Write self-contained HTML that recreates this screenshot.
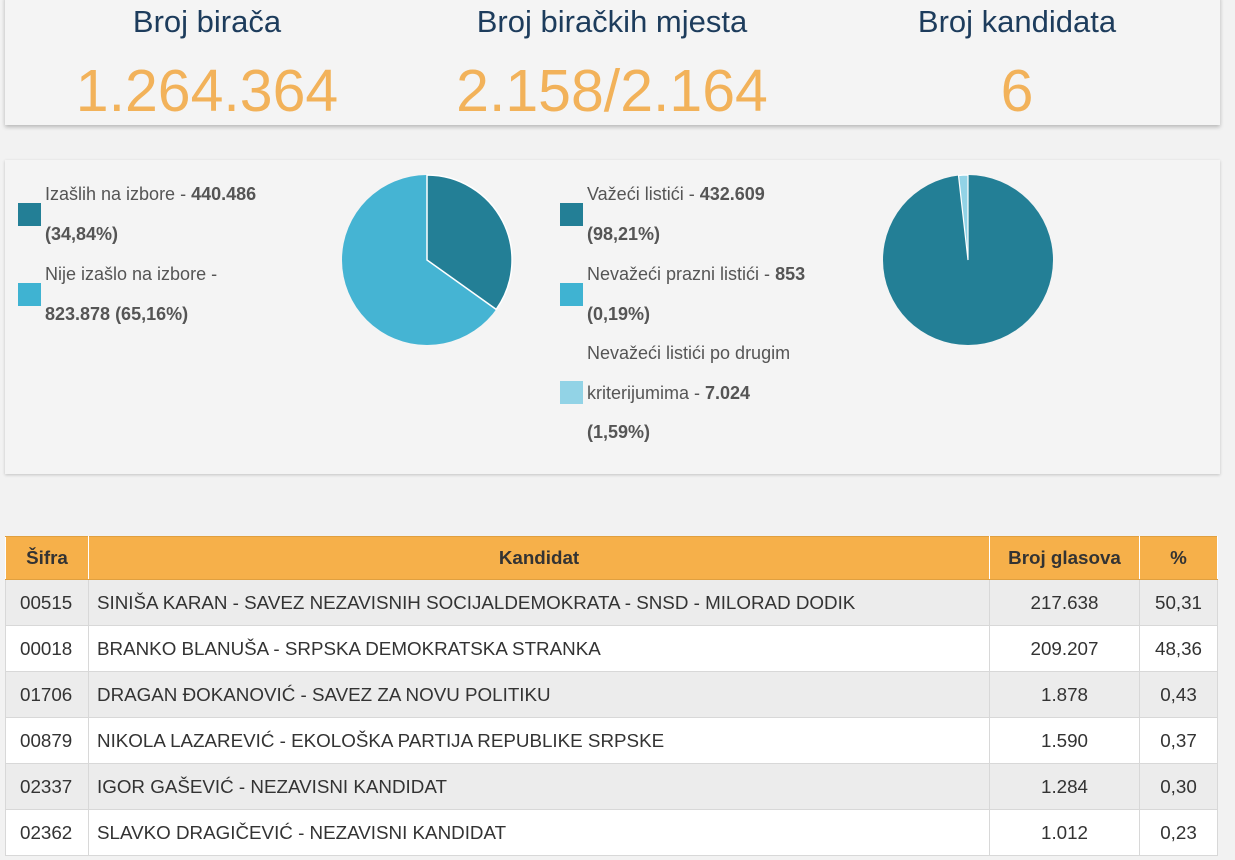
<!DOCTYPE html>
<html><head><meta charset="utf-8"><style>
body{margin:0;width:1235px;height:860px;background:#f2f2f2;font-family:"Liberation Sans","DejaVu Sans",sans-serif;position:relative;overflow:hidden}
.box{position:absolute;left:5px;width:1215px;background:#f4f4f4;box-shadow:0 2px 4px rgba(0,0,0,.25)}
.stat{position:absolute;text-align:center;width:400px}
.stat .t{font-size:31px;color:#1d3c5c;}
.stat .v{font-size:59px;color:#f2b25a;margin-top:17px}
.lg{position:absolute;font-size:18px;color:#555;line-height:39.5px;white-space:nowrap}
.lg b{color:#555}
.sq{position:absolute;width:23px;height:23px}
table{position:absolute;left:5px;top:536px;width:1213px;border-collapse:collapse;font-size:18.8px;color:#333}
td,th{border:1px solid #d8d8d8;height:45px;padding:0 8px;white-space:nowrap}
td:first-child{padding-left:14px}
th{background:#f6b04a;color:#333;font-weight:bold;height:42px;border-color:#e0a040 #fff}
tr:nth-child(even) td{background:#ececec}
tr:nth-child(odd) td{background:#fff}
.c{text-align:center}
</style></head><body>
<div class="box" style="top:-5px;height:130px"></div>
<div class="stat" style="left:7px;top:4px"><div class="t">Broj birača</div><div class="v">1.264.364</div></div>
<div class="stat" style="left:412px;top:4px"><div class="t">Broj biračkih mjesta</div><div class="v">2.158/2.164</div></div>
<div class="stat" style="left:817px;top:4px"><div class="t">Broj kandidata</div><div class="v">6</div></div>

<div class="box" style="top:160px;height:314px;box-shadow:0 1px 3px rgba(0,0,0,.2)"></div>
<div class="sq" style="left:18px;top:203px;background:#237f96"></div>
<div class="sq" style="left:18px;top:283px;background:#3fb3d2"></div>
<div class="lg" style="left:45px;top:175px">Izašlih na izbore - <b>440.486</b><br><b>(34,84%)</b><br><span style="display:block;margin-top:1px">Nije izašlo na izbore -<br><b>823.878 (65,16%)</b></span></div>

<div class="sq" style="left:560px;top:203px;background:#237f96"></div>
<div class="sq" style="left:560px;top:283px;background:#3fb3d2"></div>
<div class="sq" style="left:560px;top:381px;background:#92d3e6"></div>
<div class="lg" style="left:587px;top:175px">Važeći listići - <b>432.609</b><br><b>(98,21%)</b><br><span style="display:block;margin-top:1px">Nevažeći prazni listići - <b>853</b><br><b>(0,19%)</b></span>Nevažeći listići po drugim<br>kriterijumima - <b>7.024</b><br><b>(1,59%)</b></div>

<svg style="position:absolute;left:0;top:0" width="1235" height="480">
<g transform="translate(427,260)">
<circle r="85" fill="#45b4d3"/>
<path d="M0,0 L0,-85 A85,85 0 0 1 69.2,49.4 Z" fill="#237f96" stroke="#fff" stroke-width="1.5"/>
</g>
<g transform="translate(968,260)">
<circle r="85" fill="#237f96"/>
<path d="M0,0 L-9.5,-84.5 A85,85 0 0 1 0,-85 Z" fill="#92d3e6" stroke="#fff" stroke-width="1.2"/>
</g>
</svg>

<table>
<tr><th style="width:66px">Šifra</th><th>Kandidat</th><th style="width:133px">Broj glasova</th><th style="width:61px">%</th></tr>
<tr><td>00515</td><td>SINIŠA KARAN - SAVEZ NEZAVISNIH SOCIJALDEMOKRATA - SNSD - MILORAD DODIK</td><td class="c">217.638</td><td class="c">50,31</td></tr>
<tr><td>00018</td><td>BRANKO BLANUŠA - SRPSKA DEMOKRATSKA STRANKA</td><td class="c">209.207</td><td class="c">48,36</td></tr>
<tr><td>01706</td><td>DRAGAN ĐOKANOVIĆ - SAVEZ ZA NOVU POLITIKU</td><td class="c">1.878</td><td class="c">0,43</td></tr>
<tr><td>00879</td><td>NIKOLA LAZAREVIĆ - EKOLOŠKA PARTIJA REPUBLIKE SRPSKE</td><td class="c">1.590</td><td class="c">0,37</td></tr>
<tr><td>02337</td><td>IGOR GAŠEVIĆ - NEZAVISNI KANDIDAT</td><td class="c">1.284</td><td class="c">0,30</td></tr>
<tr><td>02362</td><td>SLAVKO DRAGIČEVIĆ - NEZAVISNI KANDIDAT</td><td class="c">1.012</td><td class="c">0,23</td></tr>
</table>
</body></html>
